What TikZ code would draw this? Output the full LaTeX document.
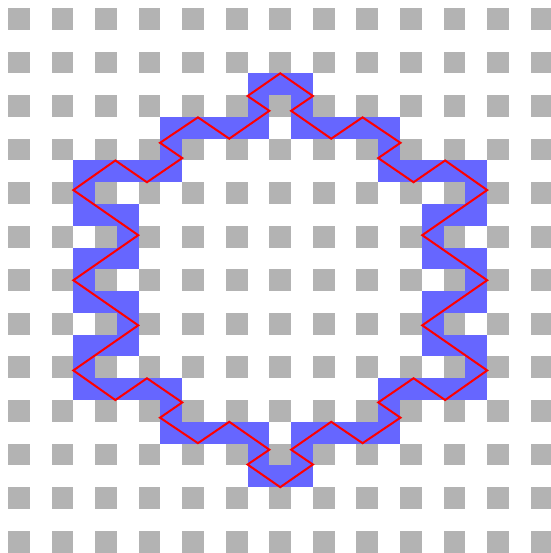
\documentclass[tikz,border=0pt]{standalone}
\definecolor{sqgray}{RGB}{179,179,179}
\definecolor{cellblue}{RGB}{102,102,255}
\definecolor{curvered}{RGB}{255,0,0}
\tikzset{
  gridsq/.style={fill=sqgray},
  bluecell/.style={fill=cellblue},
  curve/.style={draw=curvered, line width=1pt, line join=miter}
}
\begin{document}
\begin{tikzpicture}[x=0.5pt,y=-0.5pt]
\useasboundingbox[fill=white] (0,0) rectangle (551,553);
\begin{scope}[shift={(4pt,-4pt)}, x=10.89pt, y=-10.89pt]
  % gray squares
  \foreach \i in {0,...,12}{
    \foreach \j in {0,...,12}{
      \fill[gridsq] ({2*\i},{2*\j}) rectangle ++(1,1);
    }
  }
  % blue cells
  \foreach \a/\b/\w in {11/3/3, 11/4/1, 13/4/1, 7/5/5, 13/5/5, 7/6/1, 17/6/1,
    3/7/5, 17/7/5, 3/8/1, 21/8/1, 3/9/3, 19/9/3, 5/10/1, 19/10/1, 3/11/3, 19/11/3,
    3/12/1, 21/12/1, 3/13/3, 19/13/3, 5/14/1, 19/14/1, 3/15/3, 19/15/3, 3/16/1, 21/16/1,
    3/17/5, 17/17/5, 7/18/1, 17/18/1, 7/19/5, 13/19/5, 11/20/1, 13/20/1, 11/21/3}{
    \fill[bluecell] (\a,\b) rectangle ++(\w,1);
  }
  % red curve
  \draw[curve] (12.5,3) -- (11,4.04) -- (12,4.72) -- (10.16,6) -- (8.72,5.02)
    -- (6.98,6.19) -- (8,6.89) -- (6.38,8) -- (4.93,7) -- (3,8.36) -- (5.98,10.43)
    -- (3,12.5)
    -- (5.98,14.57) -- (3,16.64) -- (4.93,18) -- (6.38,17) -- (8,18.11) -- (6.98,18.81)
    -- (8.72,19.98) -- (10.16,19) -- (12,20.28) -- (11,20.96) -- (12.5,22)
    -- (14,20.96) -- (13,20.28) -- (14.84,19) -- (16.28,19.98) -- (18.02,18.81)
    -- (17,18.11) -- (18.62,17) -- (20.07,18) -- (22,16.64) -- (19.02,14.57) -- (22,12.5)
    -- (19.02,10.43) -- (22,8.36) -- (20.07,7) -- (18.62,8) -- (17,6.89) -- (18.02,6.19)
    -- (16.28,5.02) -- (14.84,6) -- (13,4.72) -- (14,4.04) -- cycle;
\end{scope}
\end{tikzpicture}
\end{document}
